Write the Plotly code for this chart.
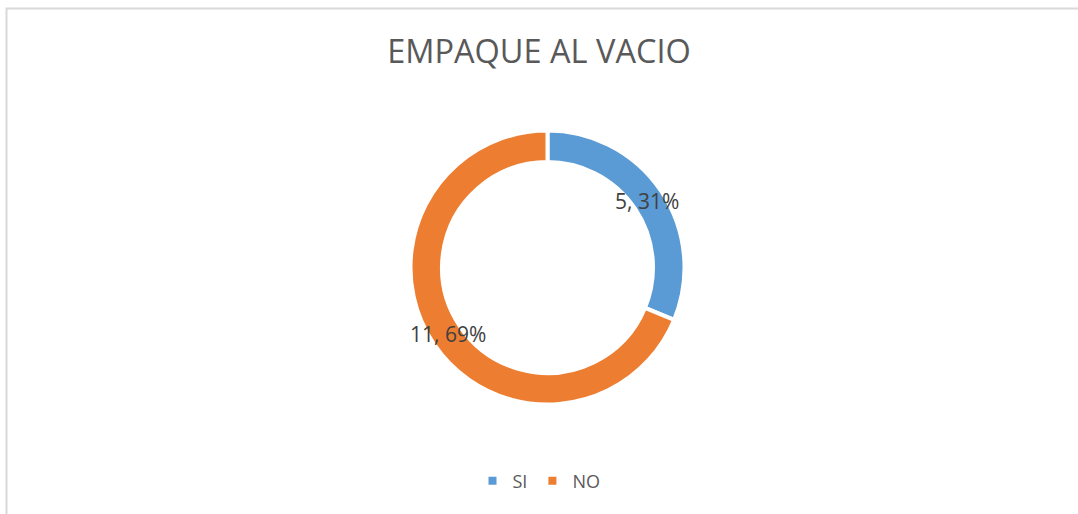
import math
import plotly.graph_objects as go

categories = ["SI", "NO"]
values = [5, 11]
colors = ["#5B9BD5", "#ED7D31"]
title_text = "EMPAQUE AL VACIO"

W, H = 1078, 514
cx, cy, r_out = 547.5, 267.5, 137
hole = 0.77

fig = go.Figure()
fig.add_trace(go.Pie(
    labels=categories, values=values, hole=hole, sort=False, direction="clockwise",
    rotation=0, marker=dict(colors=colors, line=dict(color="white", width=4)),
    textinfo="none", hoverinfo="label+value+percent",
    domain=dict(x=[(cx - r_out) / W, (cx + r_out) / W], y=[1 - (cy + r_out) / H, 1 - (cy - r_out) / H]),
))

# data labels placed at ring mid-line, computed from values
total = sum(values)
r_mid = 135.5 * (1 + hole) / 2
acc = 0
annotations = []
for lab, v in zip(categories, values):
    mid = (acc + v / 2) / total * 2 * math.pi
    acc += v
    px = cx + r_mid * math.sin(mid)
    py = cy - r_mid * math.cos(mid)
    annotations.append(dict(
        x=px / W, y=1 - py / H, xref="paper", yref="paper", showarrow=False,
        text=f"{v}, {round(v / total * 100)}%",
        font=dict(family="Open Sans", size=21, color="#404040"),
        xanchor="center", yanchor="middle",
    ))

fig.update_layout(
    width=W, height=H, margin=dict(l=0, r=0, t=0, b=0),
    paper_bgcolor="white", plot_bgcolor="white",
    title=dict(text=title_text, x=0.5, xanchor="center", y=1 - 52 / H, yanchor="middle",
               font=dict(family="Open Sans", size=32.5, color="#595959")),
    showlegend=True,
    legend=dict(orientation="h", x=0.5, xanchor="center", y=1 - 481 / H, yanchor="middle",
                font=dict(family="Open Sans", size=18, color="#595959"), itemwidth=30),
    annotations=annotations,
    shapes=[dict(type="rect", xref="paper", yref="paper", x0=6.5 / W, x1=1.02, y0=1 - 8.5 / H, y1=-0.02,
                 line=dict(color="#D9D9D9", width=2))],
)

fig.write_html("out.html", config={"displayModeBar": False},
               post_script="document.body.style.margin='0';")
